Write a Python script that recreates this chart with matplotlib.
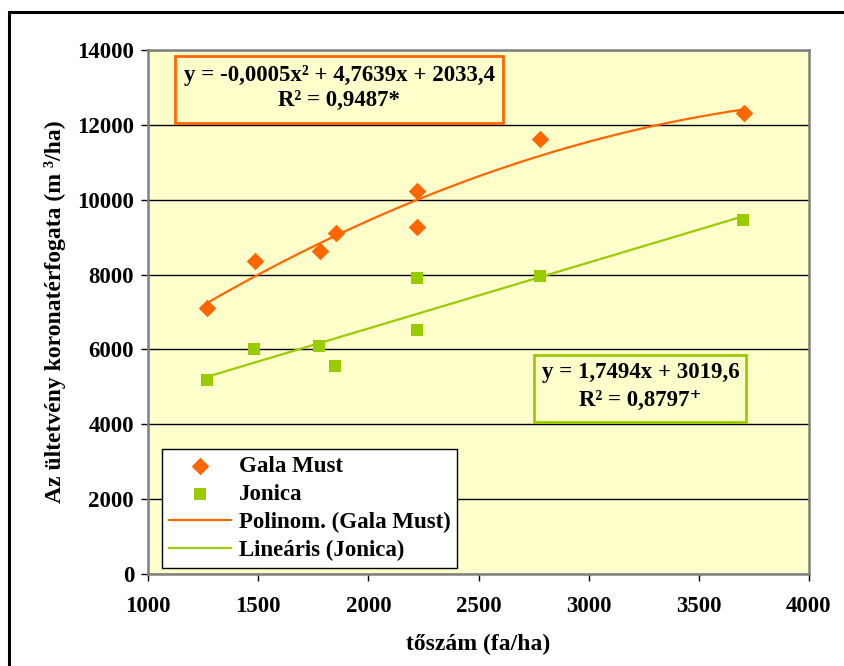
import matplotlib
matplotlib.use('Agg')
import matplotlib.pyplot as plt
from matplotlib.patches import Rectangle
import numpy as np

plt.rcParams['font.family'] = ['Liberation Serif', 'DejaVu Serif']
plt.rcParams['font.weight'] = 'bold'

# data
gala_x = [1268, 1485, 1782, 1853, 2223, 2223, 2781, 3706]
gala_y = [7100, 8370, 8630, 9120, 10240, 9270, 11620, 12320]
jonica_x = [1266, 1481, 1778, 1849, 2219, 2219, 2777, 3701]
jonica_y = [5190, 6000, 6100, 5570, 7920, 6530, 7965, 9470]

gala_eq = ['y = -0,0005x² + 4,7639x + 2033,4', 'R² = 0,9487*']
jonica_eq = ['y = 1,7494x + 3019,6', 'R² = 0,8797⁺']

orange = '#FF6600'
green = '#99CC00'

fig = plt.figure(figsize=(8.45, 6.66), dpi=100)
W, H = 845.0, 666.0
ax = fig.add_axes([148 / W, (H - 574) / H, 661 / W, 524 / H])
ax.set_facecolor('#FFFFCC')

# outer chart frame
fig.patches.append(Rectangle((9 / W, -0.1), 1.1, (H - 12) / H + 0.1,
                             transform=fig.transFigure, fill=False,
                             edgecolor='black', linewidth=2.2))

ax.scatter(gala_x, gala_y, marker='D', s=80, color=orange, zorder=4,
           label='Gala Must', linewidths=0)
ax.scatter(jonica_x, jonica_y, marker='s', s=85, color=green, zorder=4,
           label='Jonica', linewidths=0)

# trend lines
p2 = np.polyfit(gala_x, gala_y, 2)
xs = np.linspace(min(gala_x), max(gala_x), 200)
ax.plot(xs, np.polyval(p2, xs), color=orange, lw=1.6, zorder=3,
        label='Polinom. (Gala Must)')
p1 = np.polyfit(jonica_x, jonica_y, 1)
xs = np.linspace(min(jonica_x), max(jonica_x), 2)
ax.plot(xs, np.polyval(p1, xs), color=green, lw=1.6, zorder=3,
        label='Lineáris (Jonica)')

ax.set_xlim(1000, 4000)
ax.set_ylim(0, 14000)
ax.set_xticks(np.arange(1000, 4001, 500))
ax.set_yticks(np.arange(0, 14001, 2000))
ax.yaxis.grid(True, color='black', lw=1)
ax.set_axisbelow(True)
for s in ax.spines.values():
    s.set_color('#808080')
    s.set_linewidth(1.8)
ax.tick_params(labelsize=16.5, length=5, width=1, color='black')
ax.tick_params(axis='x', pad=11)
ax.tick_params(axis='y', pad=5)
for lab in ax.get_xticklabels() + ax.get_yticklabels():
    lab.set_fontweight('bold')

ax.set_xlabel('tőszám (fa/ha)', fontsize=17, fontweight='bold', labelpad=12)
ax.set_ylabel('Az ültetvény koronatérfogata (m ³/ha)', fontsize=17,
              fontweight='bold', labelpad=8)

# equation boxes
ax.add_patch(Rectangle((0.041, 0.861), 0.496, 0.1275, transform=ax.transAxes,
                       fill=False, edgecolor=orange, lw=2, zorder=5))
ax.text(0.289, 0.952, gala_eq[0], transform=ax.transAxes, ha='center',
        va='center', fontsize=16.5, fontweight='bold', zorder=6)
ax.text(0.289, 0.903, gala_eq[1], transform=ax.transAxes, ha='center',
        va='center', fontsize=16.5, fontweight='bold', zorder=6)
ax.add_patch(Rectangle((0.584, 0.290), 0.321, 0.128, transform=ax.transAxes,
                       fill=False, edgecolor=green, lw=2, zorder=5))
ax.text(0.745, 0.384, jonica_eq[0], transform=ax.transAxes, ha='center',
        va='center', fontsize=16.5, fontweight='bold', zorder=6)
ax.text(0.745, 0.332, jonica_eq[1], transform=ax.transAxes, ha='center',
        va='center', fontsize=16.5, fontweight='bold', zorder=6)

leg = ax.legend(loc='lower left', bbox_to_anchor=(0.021, 0.011),
                borderaxespad=0, fancybox=False, framealpha=1,
                edgecolor='black', prop={'size': 16.5, 'weight': 'bold'},
                handlelength=2.7, handletextpad=0.35, labelspacing=0.3,
                borderpad=0.3)
leg.get_frame().set_linewidth(1)
leg.set_zorder(7)

fig.savefig('out.png', dpi=100)
